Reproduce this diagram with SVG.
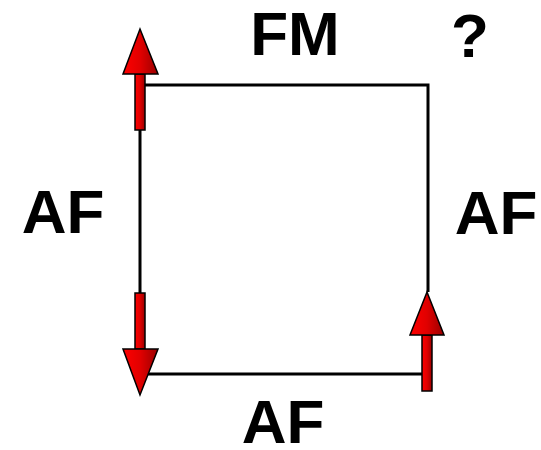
<svg xmlns="http://www.w3.org/2000/svg" width="541" height="450" viewBox="0 0 541 450">
<style>
.lbl{font-family:"Liberation Sans",Arial,sans-serif;font-weight:bold;font-size:62px;fill:#000;text-anchor:middle}
.wire{fill:none;stroke:#000;stroke-width:3}
.arr{fill:url(#rg);stroke:#000;stroke-width:1.5;stroke-linejoin:miter}
</style>
<defs>
<linearGradient id="rg" x1="0" y1="0" x2="1" y2="0">
<stop offset="0" stop-color="#ff0000"/>
<stop offset="0.5" stop-color="#e00000"/>
<stop offset="1" stop-color="#9a0000"/>
</linearGradient>
</defs>
<g id="connectors">
<path class="wire" d="M140,130 V374 H422"/>
<path class="wire" d="M140,85 H428 V292"/>
</g>
<g id="arrow-top-left">
<rect class="arr" x="135" y="74" width="10" height="56"/>
<polygon class="arr" points="140,29 158,74 123,74"/>
</g>
<g id="arrow-bottom-left">
<rect class="arr" x="135" y="293" width="10" height="56"/>
<polygon class="arr" points="123,349 158,349 140,395"/>
</g>
<g id="arrow-right">
<rect class="arr" x="422" y="335" width="10" height="56"/>
<polygon class="arr" points="427,292 444,335 410,335"/>
</g>
<g id="label-fm"><text class="lbl" x="295" y="55">FM</text></g>
<g id="label-q"><text class="lbl" x="470" y="57">?</text></g>
<g id="label-af-left"><text class="lbl" x="63" y="233">AF</text></g>
<g id="label-af-right"><text class="lbl" x="496" y="234">AF</text></g>
<g id="label-af-bottom"><text class="lbl" x="283" y="443">AF</text></g>
</svg>
